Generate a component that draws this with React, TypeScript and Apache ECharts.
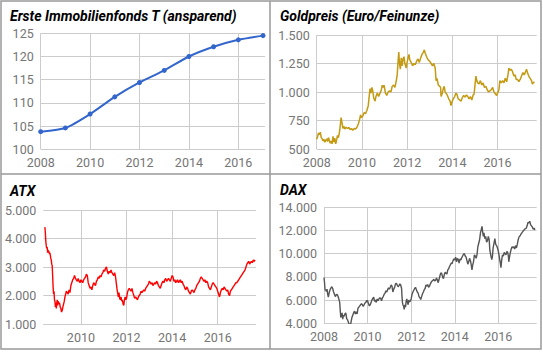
import React, { useEffect, useRef } from "react";
import * as echarts from "echarts";

// ---------- DATA ----------
const immoYears = [2008, 2009, 2010, 2011, 2012, 2013, 2014, 2015, 2016, 2017];
const immoValues = [103.8, 104.6, 107.6, 111.3, 114.4, 117.0, 120.0, 122.1, 123.6, 124.5];

const goldData: [number, number][] = [
  [2008.0, 585], [2008.04, 610], [2008.08, 640], [2008.12, 625], [2008.16, 648], [2008.2, 600], [2008.24, 590],
  [2008.28, 570], [2008.32, 585], [2008.36, 560], [2008.4, 575], [2008.44, 590], [2008.48, 565], [2008.52, 600],
  [2008.56, 575], [2008.6, 550], [2008.64, 570], [2008.68, 545], [2008.72, 610], [2008.76, 560], [2008.8, 595],
  [2008.84, 545], [2008.88, 580], [2008.92, 620], [2008.96, 600], [2009.0, 640], [2009.04, 700], [2009.08, 775],
  [2009.12, 730], [2009.16, 680], [2009.2, 700], [2009.24, 675], [2009.3, 690], [2009.36, 680], [2009.42, 690],
  [2009.48, 670], [2009.54, 680], [2009.6, 665], [2009.66, 680], [2009.72, 675], [2009.78, 690], [2009.84, 720],
  [2009.9, 760], [2009.94, 800], [2009.98, 775], [2010.04, 790], [2010.1, 820], [2010.16, 810], [2010.22, 840],
  [2010.28, 880], [2010.32, 960], [2010.36, 1030], [2010.4, 990], [2010.44, 1040], [2010.48, 1010], [2010.52, 950],
  [2010.58, 920], [2010.62, 960], [2010.68, 990], [2010.74, 960], [2010.8, 990], [2010.86, 1020], [2010.9, 1060],
  [2010.94, 1040], [2010.98, 1060], [2011.04, 990], [2011.1, 970], [2011.16, 1000], [2011.22, 1010], [2011.28, 1000],
  [2011.34, 1050], [2011.4, 1060], [2011.46, 1040], [2011.52, 1100], [2011.56, 1150], [2011.6, 1270], [2011.63, 1350],
  [2011.66, 1250], [2011.7, 1200], [2011.74, 1300], [2011.78, 1230], [2011.82, 1290], [2011.86, 1310], [2011.9, 1250],
  [2011.96, 1210], [2012.0, 1260], [2012.04, 1300], [2012.08, 1330], [2012.12, 1280], [2012.18, 1260], [2012.24, 1230],
  [2012.3, 1250], [2012.36, 1240], [2012.42, 1270], [2012.48, 1290], [2012.54, 1260], [2012.6, 1300], [2012.66, 1330],
  [2012.72, 1350], [2012.76, 1370], [2012.8, 1340], [2012.84, 1320], [2012.88, 1300], [2012.94, 1280], [2013.0, 1270],
  [2013.06, 1250], [2013.12, 1230], [2013.18, 1250], [2013.24, 1210], [2013.28, 1100], [2013.32, 1120], [2013.38, 1060],
  [2013.44, 1050], [2013.48, 1040], [2013.5, 960], [2013.54, 980], [2013.6, 1030], [2013.64, 1050], [2013.68, 1000],
  [2013.72, 990], [2013.78, 970], [2013.84, 940], [2013.9, 920], [2013.94, 880], [2013.98, 910], [2014.04, 940],
  [2014.1, 960], [2014.16, 990], [2014.2, 980], [2014.26, 940], [2014.32, 930], [2014.38, 920], [2014.44, 950],
  [2014.5, 970], [2014.56, 955], [2014.62, 975], [2014.68, 960], [2014.74, 940], [2014.8, 960], [2014.86, 930],
  [2014.92, 975], [2014.96, 980], [2015.0, 1060], [2015.04, 1140], [2015.08, 1100], [2015.12, 1080], [2015.18, 1070],
  [2015.24, 1100], [2015.3, 1060], [2015.36, 1080], [2015.42, 1040], [2015.48, 1050], [2015.54, 1020], [2015.6, 1000],
  [2015.66, 1010], [2015.72, 1020], [2015.78, 1040], [2015.84, 1000], [2015.9, 985], [2015.96, 970], [2016.0, 990],
  [2016.06, 1020], [2016.1, 1100], [2016.16, 1080], [2016.22, 1100], [2016.28, 1080], [2016.34, 1120], [2016.4, 1090],
  [2016.46, 1150], [2016.5, 1210], [2016.54, 1190], [2016.6, 1200], [2016.66, 1180], [2016.72, 1140], [2016.78, 1150],
  [2016.82, 1110], [2016.88, 1110], [2016.94, 1090], [2017.0, 1110], [2017.06, 1140], [2017.12, 1170], [2017.18, 1150],
  [2017.24, 1180], [2017.28, 1200], [2017.32, 1170], [2017.38, 1140], [2017.44, 1120], [2017.5, 1100], [2017.54, 1070],
  [2017.58, 1080], [2017.63, 1090],
];

const atxData: [number, number][] = [
  [2008.42, 4400], [2008.44, 4200], [2008.46, 3900], [2008.48, 3750], [2008.5, 3650], [2008.52, 3700], [2008.54, 3500],
  [2008.56, 3600], [2008.58, 3500], [2008.6, 3550], [2008.62, 3450], [2008.64, 3500], [2008.66, 3400], [2008.68, 3300],
  [2008.7, 3250], [2008.72, 3100], [2008.74, 3050], [2008.76, 2700], [2008.78, 2300], [2008.8, 2050], [2008.82, 2150],
  [2008.84, 1850], [2008.86, 1800], [2008.88, 1600], [2008.9, 1750], [2008.92, 1550], [2008.94, 1700], [2008.96, 1850],
  [2008.98, 1650], [2009.0, 1800], [2009.03, 1700], [2009.06, 1750], [2009.09, 1600], [2009.12, 1550], [2009.15, 1420],
  [2009.18, 1480], [2009.21, 1600], [2009.24, 1700], [2009.27, 1800], [2009.3, 1950], [2009.33, 2050], [2009.36, 2150],
  [2009.4, 2100], [2009.44, 2050], [2009.48, 2200], [2009.52, 2100], [2009.56, 2350], [2009.6, 2450], [2009.64, 2550],
  [2009.68, 2600], [2009.72, 2700], [2009.76, 2600], [2009.8, 2550], [2009.84, 2500], [2009.88, 2600], [2009.92, 2500],
  [2009.96, 2450], [2010.0, 2550], [2010.04, 2500], [2010.08, 2450], [2010.12, 2550], [2010.16, 2600], [2010.2, 2650],
  [2010.24, 2750], [2010.28, 2700], [2010.32, 2450], [2010.36, 2350], [2010.4, 2250], [2010.44, 2300], [2010.48, 2200],
  [2010.52, 2350], [2010.56, 2450], [2010.6, 2400], [2010.64, 2350], [2010.68, 2500], [2010.72, 2550], [2010.76, 2650],
  [2010.8, 2600], [2010.84, 2700], [2010.88, 2650], [2010.92, 2750], [2010.96, 2800], [2011.0, 2900], [2011.04, 2850],
  [2011.08, 2950], [2011.12, 3000], [2011.16, 2850], [2011.2, 2750], [2011.24, 2850], [2011.28, 2800], [2011.32, 2900],
  [2011.36, 2800], [2011.4, 2750], [2011.44, 2700], [2011.48, 2800], [2011.52, 2650], [2011.55, 2450], [2011.58, 2250],
  [2011.61, 2100], [2011.64, 1950], [2011.67, 2100], [2011.7, 1900], [2011.73, 1850], [2011.76, 1950], [2011.79, 1800],
  [2011.82, 1850], [2011.85, 1700], [2011.88, 1650], [2011.91, 1850], [2011.94, 1950], [2011.97, 1850], [2012.0, 1900],
  [2012.04, 2100], [2012.08, 2200], [2012.12, 2250], [2012.16, 2200], [2012.2, 2150], [2012.24, 2250], [2012.28, 2100],
  [2012.32, 2000], [2012.36, 1900], [2012.4, 1950], [2012.44, 1900], [2012.48, 1850], [2012.52, 1950], [2012.56, 2000],
  [2012.6, 2050], [2012.64, 2150], [2012.68, 2100], [2012.72, 2150], [2012.76, 2200], [2012.8, 2150], [2012.84, 2250],
  [2012.88, 2300], [2012.92, 2350], [2012.96, 2400], [2013.0, 2500], [2013.04, 2450], [2013.08, 2400], [2013.12, 2450],
  [2013.16, 2350], [2013.2, 2400], [2013.24, 2450], [2013.28, 2400], [2013.32, 2500], [2013.36, 2450], [2013.4, 2350],
  [2013.44, 2300], [2013.48, 2250], [2013.52, 2350], [2013.56, 2450], [2013.6, 2500], [2013.64, 2450], [2013.68, 2550],
  [2013.72, 2600], [2013.76, 2500], [2013.8, 2550], [2013.84, 2600], [2013.88, 2550], [2013.92, 2500], [2013.96, 2600],
  [2014.0, 2700], [2014.04, 2650], [2014.08, 2500], [2014.12, 2550], [2014.16, 2450], [2014.2, 2500], [2014.24, 2550],
  [2014.28, 2450], [2014.32, 2500], [2014.36, 2550], [2014.4, 2450], [2014.44, 2500], [2014.48, 2400], [2014.52, 2350],
  [2014.56, 2250], [2014.6, 2200], [2014.64, 2300], [2014.68, 2250], [2014.72, 2150], [2014.76, 2100], [2014.8, 2050],
  [2014.84, 2150], [2014.88, 2200], [2014.92, 2150], [2014.96, 2100], [2015.0, 2200], [2015.04, 2250], [2015.08, 2350],
  [2015.12, 2400], [2015.16, 2450], [2015.2, 2500], [2015.24, 2600], [2015.28, 2650], [2015.32, 2600], [2015.36, 2550],
  [2015.4, 2500], [2015.44, 2550], [2015.48, 2450], [2015.52, 2500], [2015.56, 2450], [2015.6, 2300], [2015.64, 2250],
  [2015.68, 2200], [2015.72, 2300], [2015.76, 2400], [2015.8, 2450], [2015.84, 2400], [2015.88, 2350], [2015.92, 2300],
  [2015.96, 2250], [2016.0, 2150], [2016.04, 2050], [2016.08, 1950], [2016.12, 2100], [2016.16, 2200], [2016.2, 2250],
  [2016.24, 2200], [2016.28, 2300], [2016.32, 2250], [2016.36, 2200], [2016.4, 2150], [2016.44, 2200], [2016.48, 2050],
  [2016.52, 2000], [2016.56, 2150], [2016.6, 2200], [2016.64, 2250], [2016.68, 2300], [2016.72, 2350], [2016.76, 2400],
  [2016.8, 2450], [2016.84, 2450], [2016.88, 2500], [2016.92, 2550], [2016.96, 2600], [2017.0, 2650], [2017.04, 2700],
  [2017.08, 2750], [2017.12, 2800], [2017.16, 2850], [2017.2, 2900], [2017.24, 3000], [2017.28, 3100], [2017.32, 3150],
  [2017.36, 3200], [2017.4, 3100], [2017.44, 3150], [2017.48, 3200], [2017.52, 3150], [2017.56, 3250], [2017.6, 3200],
  [2017.64, 3250],
];

const daxData: [number, number][] = [
  [2008.0, 7950], [2008.02, 7600], [2008.05, 6850], [2008.08, 6900], [2008.11, 6750], [2008.14, 6950], [2008.17, 6500],
  [2008.2, 6250], [2008.24, 6650], [2008.28, 6900], [2008.32, 7050], [2008.36, 7150], [2008.4, 7000], [2008.44, 6700],
  [2008.48, 6500], [2008.52, 6300], [2008.56, 6450], [2008.6, 6500], [2008.64, 6350], [2008.68, 6100], [2008.72, 5800],
  [2008.75, 5000], [2008.77, 4500], [2008.8, 4700], [2008.83, 4900], [2008.86, 4350], [2008.89, 4700], [2008.92, 4600],
  [2008.96, 4800], [2009.0, 4900], [2009.04, 4400], [2009.08, 4300], [2009.12, 4100], [2009.16, 3900], [2009.2, 3700],
  [2009.24, 4100], [2009.28, 4500], [2009.32, 4700], [2009.36, 4900], [2009.4, 5050], [2009.44, 4800], [2009.48, 5000],
  [2009.52, 4800], [2009.56, 5300], [2009.6, 5400], [2009.64, 5500], [2009.68, 5600], [2009.72, 5700], [2009.76, 5600],
  [2009.8, 5450], [2009.84, 5600], [2009.88, 5750], [2009.92, 5800], [2009.96, 5950], [2010.0, 5950], [2010.04, 5700],
  [2010.08, 5500], [2010.12, 5600], [2010.16, 5800], [2010.2, 6000], [2010.24, 6150], [2010.28, 6250], [2010.32, 5900],
  [2010.36, 6000], [2010.4, 5800], [2010.44, 6100], [2010.48, 5950], [2010.52, 6100], [2010.56, 6200], [2010.6, 6150],
  [2010.64, 5950], [2010.68, 6200], [2010.72, 6300], [2010.76, 6500], [2010.8, 6600], [2010.84, 6800], [2010.88, 6700],
  [2010.92, 6900], [2010.96, 7050], [2011.0, 6950], [2011.04, 7100], [2011.08, 7300], [2011.12, 7200], [2011.16, 6700],
  [2011.2, 6950], [2011.24, 7100], [2011.28, 7400], [2011.32, 7450], [2011.36, 7300], [2011.4, 7150], [2011.44, 7250],
  [2011.48, 7400], [2011.52, 7300], [2011.56, 7000], [2011.58, 6300], [2011.6, 5800], [2011.62, 5600], [2011.65, 5500],
  [2011.68, 5200], [2011.71, 5600], [2011.74, 5400], [2011.77, 5900], [2011.8, 6100], [2011.83, 5800], [2011.86, 5600],
  [2011.89, 6000], [2011.92, 5850], [2011.96, 5900], [2012.0, 6100], [2012.04, 6500], [2012.08, 6700], [2012.12, 6850],
  [2012.16, 7000], [2012.2, 7100], [2012.24, 6900], [2012.28, 6700], [2012.32, 6600], [2012.36, 6300], [2012.4, 6200],
  [2012.44, 6050], [2012.48, 6300], [2012.52, 6550], [2012.56, 6700], [2012.6, 6900], [2012.64, 7000], [2012.68, 7300],
  [2012.72, 7200], [2012.76, 7350], [2012.8, 7100], [2012.84, 7200], [2012.88, 7400], [2012.92, 7550], [2012.96, 7650],
  [2013.0, 7700], [2013.04, 7800], [2013.08, 7650], [2013.12, 7700], [2013.16, 7900], [2013.2, 7750], [2013.24, 7500],
  [2013.28, 7800], [2013.32, 8100], [2013.36, 8350], [2013.4, 8300], [2013.44, 8000], [2013.48, 7850], [2013.52, 8200],
  [2013.56, 8400], [2013.6, 8300], [2013.64, 8250], [2013.68, 8600], [2013.72, 8700], [2013.76, 8900], [2013.8, 9050],
  [2013.84, 9200], [2013.88, 9150], [2013.92, 9400], [2013.96, 9550], [2014.0, 9450], [2014.04, 9700], [2014.08, 9300],
  [2014.12, 9600], [2014.16, 9500], [2014.2, 9200], [2014.24, 9550], [2014.28, 9450], [2014.32, 9650], [2014.36, 9800],
  [2014.4, 9950], [2014.44, 10000], [2014.48, 9800], [2014.52, 9700], [2014.56, 9400], [2014.6, 9100], [2014.64, 9300],
  [2014.68, 9600], [2014.72, 9400], [2014.76, 9000], [2014.79, 8600], [2014.82, 9000], [2014.86, 9300], [2014.9, 9900],
  [2014.94, 9800], [2014.98, 9600], [2015.02, 9900], [2015.06, 10600], [2015.1, 10900], [2015.14, 11200], [2015.18, 11800],
  [2015.22, 12100], [2015.25, 12350], [2015.28, 11900], [2015.31, 11500], [2015.34, 11800], [2015.38, 11300],
  [2015.42, 11500], [2015.46, 11000], [2015.5, 11100], [2015.54, 11500], [2015.58, 11200], [2015.61, 10300],
  [2015.64, 10000], [2015.67, 9700], [2015.7, 9500], [2015.73, 9800], [2015.76, 10500], [2015.8, 10900], [2015.84, 11300],
  [2015.88, 10800], [2015.92, 10700], [2015.96, 10500], [2016.0, 10200], [2016.03, 9900], [2016.06, 9500], [2016.09, 9200],
  [2016.12, 8800], [2016.15, 9400], [2016.19, 9900], [2016.23, 9800], [2016.27, 10100], [2016.31, 10000], [2016.35, 9900],
  [2016.39, 10200], [2016.43, 10100], [2016.46, 9800], [2016.48, 9300], [2016.51, 9700], [2016.55, 10100], [2016.59, 10400],
  [2016.63, 10600], [2016.67, 10500], [2016.71, 10600], [2016.75, 10400], [2016.79, 10700], [2016.83, 10500],
  [2016.87, 10800], [2016.91, 11200], [2016.95, 11450], [2017.0, 11550], [2017.04, 11700], [2017.08, 11800],
  [2017.12, 11900], [2017.16, 12000], [2017.2, 12100], [2017.24, 12150], [2017.28, 12200], [2017.32, 12400],
  [2017.36, 12700], [2017.4, 12650], [2017.44, 12800], [2017.48, 12500], [2017.52, 12400], [2017.56, 12300],
  [2017.6, 12100], [2017.64, 12200], [2017.68, 12050],
];

const titles = ["Erste Immobilienfonds T (ansparend)", "Goldpreis (Euro/Feinunze)", "ATX", "DAX"];
const yearTicksFull = [2008, 2010, 2012, 2014, 2016];
const yearTicksAtx = [2010, 2012, 2014, 2016];

const FONT = "Roboto, 'Noto Sans', Arial, sans-serif";
const LABEL_COLOR = "#757575";
const GRID_COLOR = "#cccccc";

const deFormat = (v: number) => {
  const s = Math.round(v).toString();
  return s.replace(/\B(?=(\d{3})+(?!\d))/g, ".");
};

export default function App() {
  const ref = useRef<HTMLDivElement>(null);
  useEffect(() => {
    if (!ref.current) return;
    const chart = echarts.init(ref.current, undefined, { renderer: "svg" });

    const xAxisBase = (gridIndex: number, min: number, max: number, ticks: number[]) => ({
      type: "value" as const,
      gridIndex,
      min,
      max,
      axisLine: { show: false },
      axisTick: { show: false, customValues: ticks },
      axisLabel: {
        customValues: ticks,
        formatter: (v: number) => String(Math.round(v)),
        color: LABEL_COLOR,
        fontSize: 12.5,
        fontFamily: FONT,
        margin: 7,
      },
      splitLine: { show: true, lineStyle: { color: GRID_COLOR, width: 1 } },
    });
    const yAxisBase = (gridIndex: number, min: number, max: number, interval: number) => ({
      type: "value" as const,
      gridIndex,
      min,
      max,
      interval,
      axisLine: { show: false },
      axisTick: { show: false },
      axisLabel: {
        formatter: (v: number) => deFormat(v),
        color: LABEL_COLOR,
        fontSize: 12.5,
        fontFamily: FONT,
        margin: 7,
      },
      splitLine: { show: true, lineStyle: { color: GRID_COLOR, width: 1 } },
    });

    const titlePos = [
      [10, 16],
      [280, 16],
      [10, 191],
      [280, 190],
    ];

    chart.setOption({
      animation: false,
      backgroundColor: "#ffffff",
      grid: [
        { left: 40.7, top: 33.3, width: 224.3, height: 116 },
        { left: 316.7, top: 35, width: 220, height: 114 },
        { left: 43.3, top: 210, width: 212.7, height: 114 },
        { left: 324, top: 207.3, width: 212.7, height: 116 },
      ],
      xAxis: [
        xAxisBase(0, 2008, 2017.08, yearTicksFull),
        xAxisBase(1, 2008, 2017.73, yearTicksFull),
        xAxisBase(2, 2008.35, 2017.68, yearTicksAtx),
        xAxisBase(3, 2008, 2017.76, yearTicksFull),
      ],
      yAxis: [
        yAxisBase(0, 100, 125, 5),
        yAxisBase(1, 500, 1500, 250),
        yAxisBase(2, 1000, 5000, 1000),
        yAxisBase(3, 4000, 14000, 2000),
      ],
      series: [
        {
          type: "line",
          xAxisIndex: 0,
          yAxisIndex: 0,
          data: immoYears.map((y, i) => [y, immoValues[i]]),
          smooth: 0.2,
          symbol: "circle",
          symbolSize: 5,
          itemStyle: { color: "#3366cc" },
          lineStyle: { color: "#3366cc", width: 2 },
        },
        {
          type: "line",
          xAxisIndex: 1,
          yAxisIndex: 1,
          data: goldData,
          showSymbol: false,
          lineStyle: { color: "#c39a12", width: 1.5 },
        },
        {
          type: "line",
          xAxisIndex: 2,
          yAxisIndex: 2,
          data: atxData,
          showSymbol: false,
          lineStyle: { color: "#ff0000", width: 1.4 },
        },
        {
          type: "line",
          xAxisIndex: 3,
          yAxisIndex: 3,
          data: daxData,
          showSymbol: false,
          lineStyle: { color: "#555555", width: 1.4 },
        },
      ],
      graphic: [
        {
          type: "rect",
          shape: { x: 1, y: 1, width: 540, height: 348 },
          style: { fill: "none", stroke: "#999999", lineWidth: 1.5 },
          silent: true,
        },
        {
          type: "line",
          shape: { x1: 270, y1: 1, x2: 270, y2: 349 },
          style: { stroke: "#999999", lineWidth: 1.5 },
          silent: true,
        },
        {
          type: "line",
          shape: { x1: 1, y1: 174, x2: 541, y2: 174 },
          style: { stroke: "#999999", lineWidth: 1.5 },
          silent: true,
        },
        ...titles.map((t, i) => ({
          type: "text",
          x: titlePos[i][0],
          y: titlePos[i][1],
          silent: true,
          style: {
            text: t,
            fill: "#000000",
            fontFamily: FONT,
            fontSize: 14,
            fontWeight: "bold",
            fontStyle: "italic",
            verticalAlign: "middle",
          },
        })),
      ],
    });
    return () => chart.dispose();
  }, []);
  return (
    <div
      ref={ref}
      style={{ position: "absolute", left: 0, top: 0, width: 543, height: 352 }}
    />
  );
}
